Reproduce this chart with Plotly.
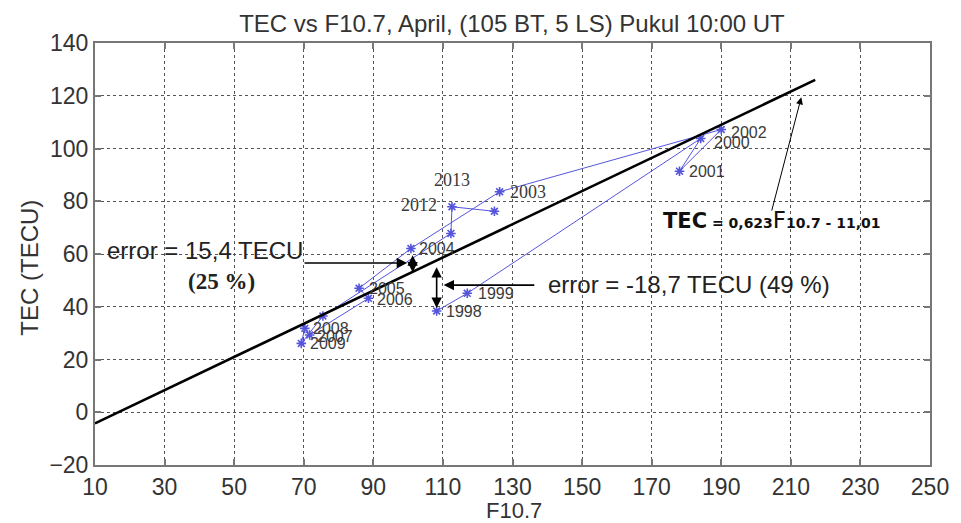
import plotly.graph_objects as go

# ---------------- data ----------------
years = [1998, 1999, 2000, 2001, 2002, 2003, 2004, 2005,
         2006, 2007, 2008, 2009, 2010, 2011, 2012, 2013]
f107 = [108.2, 117.0, 184.1, 178.0, 190.0, 126.3, 100.8, 85.9,
        88.6, 71.7, 70.3, 69.3, 75.5, 112.3, 112.6, 124.8]
tec = [38.4, 45.1, 103.8, 91.4, 107.2, 83.6, 62.1, 47.0,
       43.2, 29.3, 31.8, 26.1, 36.5, 67.8, 77.9, 76.2]
year_labels = ["1998", "1999", "2000", "2001", "2002", "2003", "2004", "2005",
               "2006", "2007", "2008", "2009", "", "", "2012", "2013"]

reg_f = [10, 217]
reg_tec = [-4.2, 126.0]

x_ticks = [10, 30, 50, 70, 90, 110, 130, 150, 170, 190, 210, 230, 250]
y_ticks = [-20, 0, 20, 40, 60, 80, 100, 120, 140]

title_text = "TEC vs F10.7, April, (105 BT, 5 LS) Pukul 10:00 UT"
x_title = "F10.7"
y_title = "TEC (TECU)"

# ---------------- styles ----------------
SANS = "Liberation Sans, Arial, sans-serif"
SERIF = "Liberation Serif, Times New Roman, serif"
label_style = {
    "1998": (7, -1, "left", SANS),
    "1999": (9, 0, "left", SANS),
    "2000": (11, -4, "left", SANS),
    "2001": (7, 0, "left", SANS),
    "2002": (8, -3, "left", SANS),
    "2003": (8, 0, "left", SERIF),
    "2004": (6, 0, "left", SANS),
    "2005": (8, 0, "left", SANS),
    "2006": (7, -1, "left", SANS),
    "2007": (5, -2, "left", SANS),
    "2008": (6, 0, "left", SANS),
    "2009": (7, 0, "left", SANS),
    "2012": (-13, 2, "right", SERIF),
    "2013": (-42, 31, "center", SERIF),
}

fig = go.Figure()

fig.add_trace(go.Scatter(
    x=f107, y=tec, mode="lines+markers",
    line=dict(color="#5555dc", width=1),
    marker=dict(symbol="asterisk-open", size=8,
                line=dict(color="#1818c8", width=1.6)),
    showlegend=False, hoverinfo="skip"))

fig.add_trace(go.Scatter(
    x=reg_f, y=reg_tec, mode="lines",
    line=dict(color="black", width=2.6),
    showlegend=False, hoverinfo="skip"))

annotations = []
for fx, ty, lab in zip(f107, tec, year_labels):
    if not lab:
        continue
    xs, ys, anc, fam = label_style[lab]
    annotations.append(dict(
        x=fx, y=ty, xref="x", yref="y", text=lab, showarrow=False,
        xanchor=anc, yanchor="middle", xshift=xs, yshift=ys,
        font=dict(family=fam, size=16 if fam == SANS else 18, color="#3a3a3a")))

# error annotations
annotations += [
    dict(x=12.85, y=61.5, xref="x", yref="y", text="error = 15,4 TECU",
         showarrow=False, xanchor="left", yanchor="middle",
         font=dict(family=SANS, size=24, color="#222")),
    dict(x=46.4, y=49.4, xref="x", yref="y", text="<b>(25 %)</b>",
         showarrow=False, xanchor="center", yanchor="middle",
         font=dict(family=SERIF, size=23, color="#222")),
    dict(x=99.7, y=56.6, ax=69.8, ay=56.6, xref="x", yref="y", axref="x", ayref="y",
         text="", showarrow=True, arrowhead=2, arrowsize=1.3, arrowwidth=1.6,
         arrowcolor="black"),
    dict(x=101.3, y=59.5, ax=101.3, ay=52.5, xref="x", yref="y", axref="x", ayref="y",
         text="", showarrow=True, arrowhead=2, arrowside="end+start", arrowsize=1.3,
         arrowwidth=1.6, arrowcolor="black"),
    dict(x=139.6, y=48.4, xref="x", yref="y", text="error = -18,7 TECU (49 %)",
         showarrow=False, xanchor="left", yanchor="middle",
         font=dict(family=SANS, size=24, color="#222")),
    dict(x=110.2, y=48.2, ax=136.7, ay=48.2, xref="x", yref="y", axref="x", ayref="y",
         text="", showarrow=True, arrowhead=2, arrowsize=1.3, arrowwidth=1.6,
         arrowcolor="black"),
    dict(x=108.2, y=55.0, ax=108.2, ay=39.0, xref="x", yref="y", axref="x", ayref="y",
         text="", showarrow=True, arrowhead=2, arrowside="end+start", arrowsize=1.3,
         arrowwidth=1.6, arrowcolor="black"),
    dict(x=172.8, y=72.8, xref="x", yref="y",
         text=("<b><span style='font-size:21px'>TEC</span>"
               "<span style='font-size:14px'> = 0,623</span></b>"
               "<span style='font-size:23px'>F</span>"
               "<b><span style='font-size:14px'>10.7 - 11,01</span></b>"),
         showarrow=False, xanchor="left", yanchor="middle",
         font=dict(family="DejaVu Sans, sans-serif", size=14, color="#111")),
    dict(x=213.0, y=119.4, ax=204.4, ay=75.9, xref="x", yref="y", axref="x", ayref="y",
         text="", showarrow=True, arrowhead=2, arrowsize=1.4, arrowwidth=1,
         arrowcolor="black"),
    # axis titles
    dict(x=(518 - 95) / 843, y=-(511 - 465) / 422, xref="paper", yref="paper",
         text=x_title, showarrow=False, xanchor="center", yanchor="middle",
         font=dict(family=SANS, size=22, color="#333")),
    dict(x=(28 - 95) / 843, y=(465 - 268) / 422, xref="paper", yref="paper",
         text=y_title, showarrow=False, xanchor="center", yanchor="middle",
         textangle=-90, font=dict(family=SANS, size=24, color="#333")),
]

axis_common = dict(
    showline=True, mirror="ticks", linecolor="#777", linewidth=2,
    ticks="inside", ticklen=6, tickcolor="#777", tickwidth=1.5,
    showgrid=True, gridcolor="#555", gridwidth=1, griddash="3px,3px",
    zeroline=False, tickfont=dict(family=SANS, size=23, color="#333"),
)

fig.update_layout(
    width=961, height=523,
    margin=dict(l=95, r=23, t=43, b=58),
    paper_bgcolor="white", plot_bgcolor="white",
    title=dict(text=title_text, x=512 / 961, xanchor="center",
               y=1 - 24 / 523, yanchor="middle",
               font=dict(family=SANS, size=24, color="#333")),
    xaxis=dict(range=[10, 250], tickvals=x_ticks, **axis_common),
    yaxis=dict(range=[-20, 140], tickvals=y_ticks, **axis_common),
    annotations=annotations,
)

fig.write_html("out.html")
